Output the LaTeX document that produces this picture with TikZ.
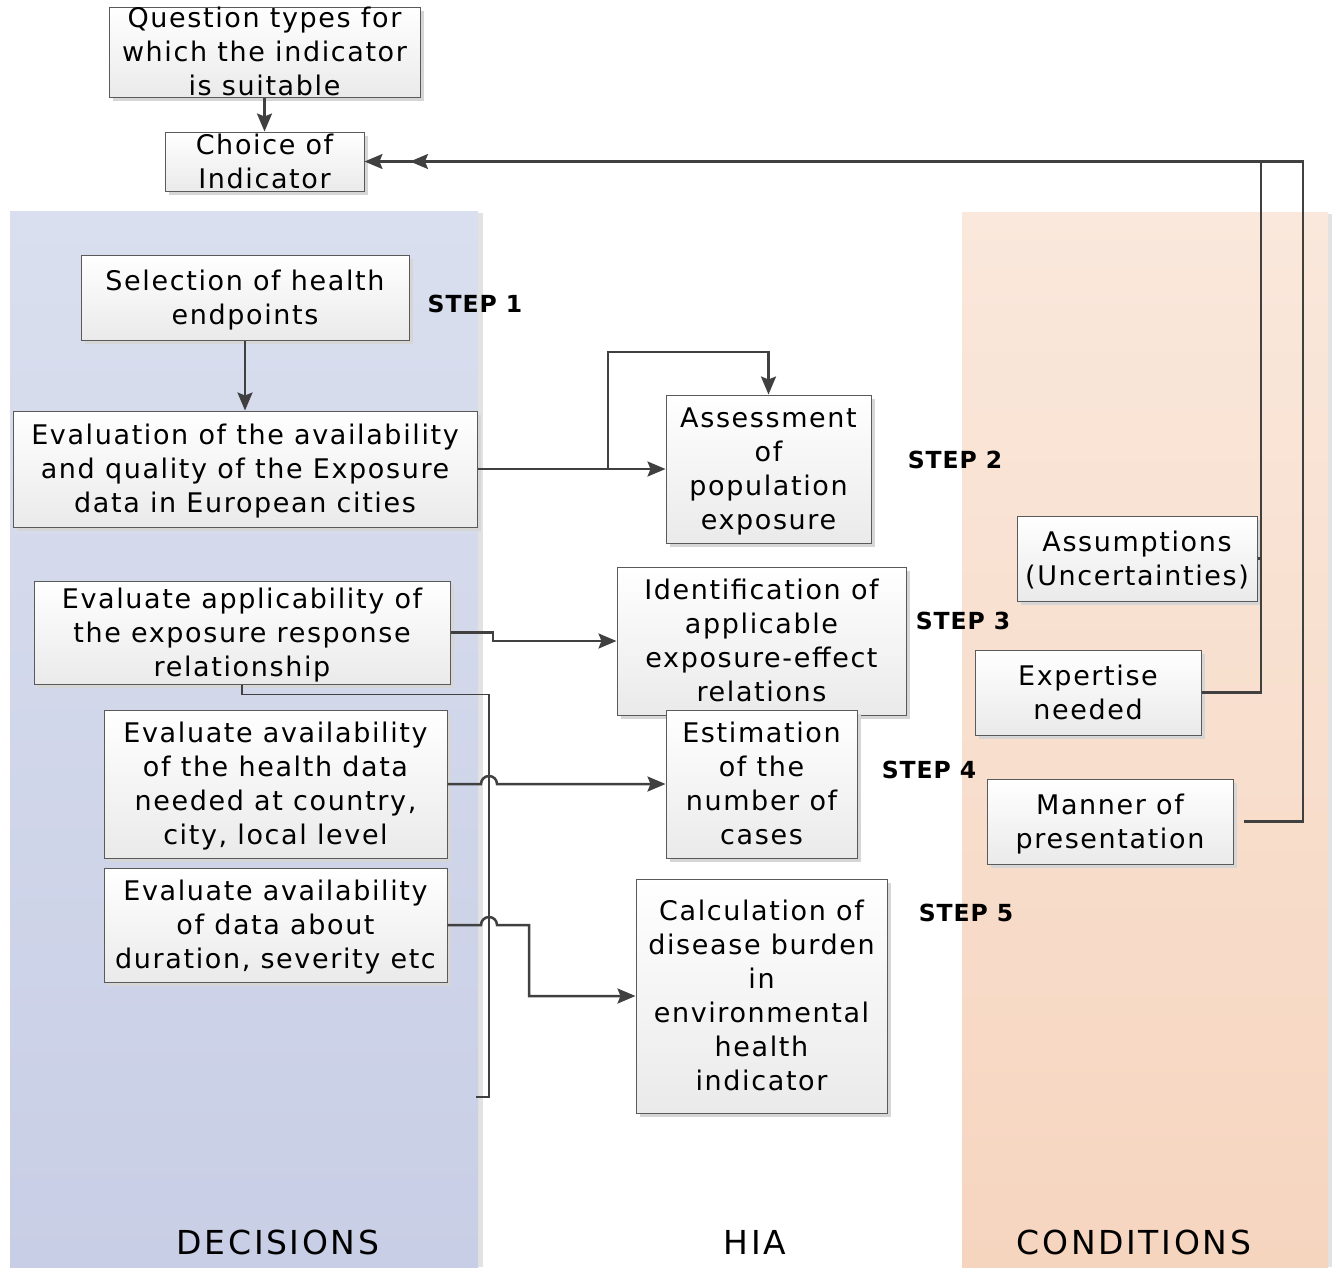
\documentclass[tikz,border=0pt]{standalone}
\usepackage{fontspec}
\setmainfont{DejaVu Sans}
\newfontfamily\bxfont[LetterSpace=6]{DejaVu Sans}
\newfontfamily\stfont[LetterSpace=4]{DejaVu Sans Bold}
\newfontfamily\lbfont[LetterSpace=8]{DejaVu Sans}
\newcommand{\mystrtop}{\rule{0pt}{27pt}}
\newcommand{\mystrbot}{\rule[-8pt]{0pt}{8pt}}
\usetikzlibrary{arrows.meta,shadows}
\definecolor{ln}{HTML}{404040}
\definecolor{boxline}{HTML}{5A5A5A}
\definecolor{boxbot}{HTML}{EAEAEA}
\definecolor{shadowc}{HTML}{D6D6D6}
\definecolor{bltop}{HTML}{DADFEF}
\definecolor{blbot}{HTML}{C8CEE5}
\definecolor{ortop}{HTML}{FAE8DC}
\definecolor{orbot}{HTML}{F6D5BF}
\definecolor{panelshadow}{HTML}{E2E2E2}
\begin{document}
\begin{tikzpicture}[x=1pt,y=-1pt,
  box/.style={draw=boxline, line width=1pt, top color=white, bottom color=boxbot,
    drop shadow={shadow xshift=4pt, shadow yshift=-4pt, fill=shadowc, opacity=1},
    inner sep=0pt, align=center, font=\bxfont\fontsize{27}{34}\selectfont},
  steplbl/.style={font=\stfont\fontsize{23.5}{28}\selectfont, inner sep=0pt},
  lanelbl/.style={font=\lbfont\fontsize{33}{38}\selectfont, inner sep=0pt},
  conn/.style={draw=ln, line width=2.5pt, -{Stealth[length=18pt,width=15pt,inset=3pt]}},
  link/.style={draw=ln, line width=2.2pt},
  bracket/.style={draw=ln, line width=1.3pt}]
\useasboundingbox (0,0) rectangle (1332,1267);
% lanes
\fill[panelshadow] (478,213) rectangle (483,1267);
\shade[top color=bltop, bottom color=blbot] (10,211) rectangle (478,1267);
\fill[panelshadow] (1328,214) rectangle (1332,1267);
\shade[top color=ortop, bottom color=orbot] (962,212) rectangle (1328,1267);
% boxes
\node[box, minimum width=311, minimum height=90, inner ysep=-7pt] (q) at (264.5,52) {\mystrtop Question types for\\which the indicator\\is suitable\mystrbot};
\node[box, minimum width=199, minimum height=59, inner ysep=-6pt] (ch) at (264.5,161.5) {\mystrtop Choice of\\Indicator\mystrbot};
\node[box, minimum width=328, minimum height=85] (sel) at (245,297.5) {\mystrtop Selection of health\\endpoints\mystrbot};
\node[box, minimum width=464, minimum height=116] (ev) at (245,469) {\mystrtop Evaluation of the availability\\and quality of the Exposure\\data in European cities\mystrbot};
\node[box, minimum width=205, minimum height=148] (as) at (768.5,469) {\mystrtop Assessment\\of\\population\\exposure\mystrbot};
\node[box, minimum width=416, minimum height=103] (app) at (242,632.5) {\mystrtop Evaluate applicability of\\the exposure response\\relationship\mystrbot};
\node[box, minimum width=289, minimum height=148] (id) at (761.5,641) {\mystrtop Identification of\\applicable\\exposure-effect\\relations\mystrbot};
\node[box, minimum width=343, minimum height=148] (hd) at (275.5,784) {\mystrtop Evaluate availability\\of the health data\\needed at country,\\city, local level\mystrbot};
\node[box, minimum width=191, minimum height=148] (es) at (761.5,784) {\mystrtop Estimation\\of the\\number of\\cases\mystrbot};
\node[box, minimum width=343, minimum height=114] (du) at (275.5,925) {\mystrtop Evaluate availability\\of data about\\duration, severity etc\mystrbot};
\node[box, minimum width=251, minimum height=234] (ca) at (761.5,996) {\mystrtop Calculation of\\disease burden\\in\\environmental\\health\\indicator\mystrbot};
\node[box, minimum width=240, minimum height=85] (au) at (1137,558.5) {\mystrtop Assumptions\\(Uncertainties)\mystrbot};
\node[box, minimum width=226, minimum height=85] (ex) at (1088,692.5) {\mystrtop Expertise\\needed\mystrbot};
\node[box, minimum width=246, minimum height=85] (ma) at (1110,821.5) {\mystrtop Manner of\\presentation\mystrbot};
% step labels
\node[steplbl] (s1) at (475,304) {STEP 1};
\node[steplbl] (s2) at (955,460) {STEP 2};
\node[steplbl] (s3) at (963,621) {STEP 3};
\node[steplbl] (s4) at (929,770) {STEP 4};
\node[steplbl] (s5) at (966,913) {STEP 5};
% lane labels
\node[lanelbl] (l1) at (278,1242) {DECISIONS};
\node[lanelbl] (l2) at (755,1242) {HIA};
\node[lanelbl] (l3) at (1134,1242) {CONDITIONS};
% connectors
\draw[conn] (q) -- (ch);
\draw[conn] (sel) -- (ev);
\draw[conn] (ev) -- (as);
\coordinate (b1) at (608,469);
\draw[conn] (b1) -- (608,352) -| (as.north);
\draw[conn] (app.east) -- (493,632.5) |- (id.west);
\draw[bracket] (app.south) -- ++(0,10) -| (489,1097) -- (476,1097);
\draw[conn] (hd.east) -- (481,784) arc[start angle=180, end angle=360, radius=8] -- (es.west);
\draw[conn] (du.east) -- (481,925) arc[start angle=180, end angle=360, radius=8] -- (529,925) |- (ca.west);
% right side feedback
\draw[link] (ex.east) -- (1261,692.5) -- (1261,558.5);
\draw[conn, line width=2.2pt] (au.east) -- (1261,558.5) -- (1261,161.5) -- (ch.east);
\draw[conn, line width=2.2pt] ([xshift=10pt]ma.east) -- (1303,821.5) -- (1303,161.5) -- (410,161.5);
\end{tikzpicture}
\end{document}
